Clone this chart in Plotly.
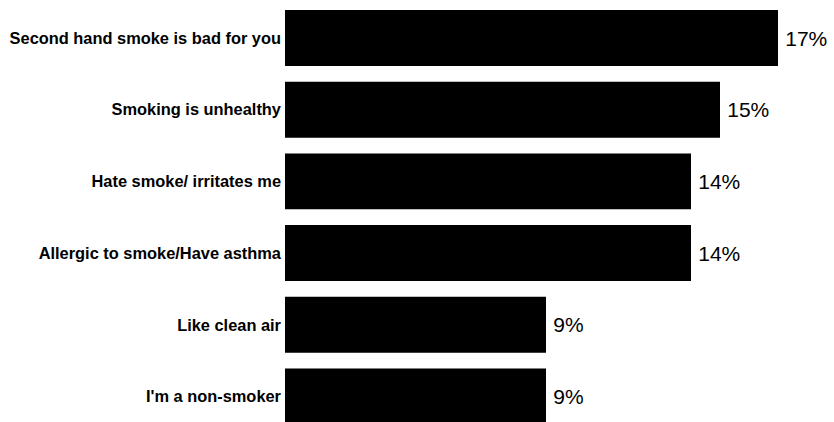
import plotly.graph_objects as go

# Reasons given for preferring smoke-free places (share of respondents, %)
reasons = [
    "Second hand smoke is bad for you",
    "Smoking is unhealthy",
    "Hate smoke/ irritates me",
    "Allergic to smoke/Have asthma",
    "Like clean air",
    "I'm a non-smoker",
]
shares = [17, 15, 14, 14, 9, 9]

fig = go.Figure(
    go.Bar(
        x=shares,
        y=reasons,
        orientation="h",
        marker=dict(color="#000000", line=dict(width=0)),
        width=0.78,
        texttemplate="\u2009%{x}%",
        textposition="outside",
        cliponaxis=False,
        textfont=dict(family="Liberation Sans, Arial, sans-serif", size=21, color="#000000"),
    )
)

fig.update_layout(
    width=834,
    height=422,
    margin=dict(l=285, r=0, t=0, b=0),
    paper_bgcolor="white",
    plot_bgcolor="white",
    showlegend=False,
    bargap=0.22,
    xaxis=dict(range=[0, 549 / 29.0], visible=False, fixedrange=True),
    yaxis=dict(
        type="category",
        categoryorder="array",
        categoryarray=reasons,
        range=[5.356, -0.530],
        showgrid=False,
        zeroline=False,
        showline=False,
        ticks="",
        ticklabelstandoff=3,
        tickfont=dict(family="Liberation Sans, Arial, sans-serif", size=16.4,
                      weight="bold", color="#000000"),
    ),
)

fig.write_html("out.html")
